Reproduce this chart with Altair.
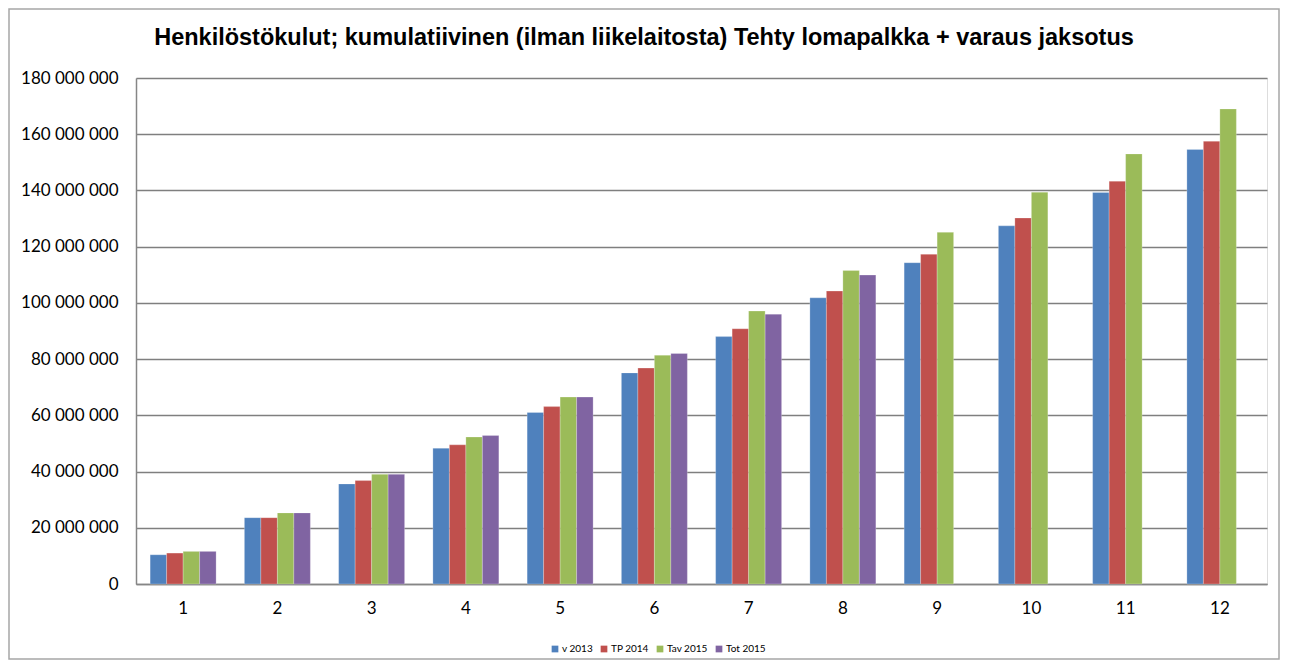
import altair as alt
import pandas as pd

months = list(range(1, 13))
series_names = ["v 2013", "TP 2014", "Tav 2015", "Tot 2015"]
v2013 = [10.4, 23.6, 35.6, 48.3, 61.0, 75.1, 88.0, 101.8, 114.3, 127.4, 139.3, 154.6]
tp2014 = [11.0, 23.6, 36.8, 49.5, 63.1, 76.8, 90.8, 104.2, 117.3, 130.2, 143.3, 157.5]
tav2015 = [11.6, 25.3, 39.0, 52.3, 66.5, 81.4, 97.1, 111.5, 125.1, 139.4, 153.0, 169.0]
tot2015 = [11.6, 25.3, 39.0, 52.8, 66.5, 82.0, 96.0, 109.9, None, None, None, None]
colors = ["#4F81BD", "#C0504D", "#9BBB59", "#8064A2"]
y_ticks = [0, 20e6, 40e6, 60e6, 80e6, 100e6, 120e6, 140e6, 160e6, 180e6]
title_text = "Henkilöstökulut; kumulatiivinen (ilman liikelaitosta) Tehty lomapalkka + varaus jaksotus"

rows = []
for name, vals in zip(series_names, [v2013, tp2014, tav2015, tot2015]):
    for m, v in zip(months, vals):
        if v is not None:
            rows.append({"month": m, "series": name, "value": v * 1e6})
df = pd.DataFrame(rows)

FONT = "Lato"

bars = alt.Chart(df).mark_bar(stroke="#ffffff", strokeWidth=0.4, strokeOpacity=0.6).encode(
    x=alt.X("month:O", title=None,
            scale=alt.Scale(paddingInner=0.3, paddingOuter=0.15),
            axis=alt.Axis(labelAngle=0, labelFontSize=17, labelFont=FONT, labelColor="#000000",
                          labelPadding=16, ticks=False, domainColor="#868686", domainWidth=1.5,
                          grid=False)),
    xOffset=alt.XOffset("series:N", scale=alt.Scale(domain=series_names)),
    y=alt.Y("value:Q", title=None,
            scale=alt.Scale(domain=[0, 180e6], nice=False),
            axis=alt.Axis(values=y_ticks, labelFontSize=17, labelFont=FONT, labelColor="#000000",
                          labelPadding=18, ticks=False, domainColor="#868686", domainWidth=1.5,
                          gridColor="#7f7f7f", gridWidth=1.5,
                          labelExpr="replace(format(datum.value, ','), regexp(',', 'g'), ' ')")),
    color=alt.Color("series:N", scale=alt.Scale(domain=series_names, range=colors),
                    legend=alt.Legend(title=None, orient="none", direction="horizontal",
                                      legendX=414, legendY=566, symbolType="square",
                                      symbolSize=45, symbolStrokeWidth=0, labelFontSize=10,
                                      labelFont=FONT, labelColor="#000000", columnPadding=6,
                                      labelOffset=2)),
)

one = pd.DataFrame({"t": [title_text]})

frame = alt.Chart(one).mark_rect(
    filled=False, stroke="#a6a6a6", strokeWidth=1.5
).encode(x=alt.value(-127), x2=alt.value(1143), y=alt.value(-69), y2=alt.value(581))

title = alt.Chart(one).mark_text(
    font="Liberation Sans", fontSize=23.5, fontWeight="bold", color="#000000",
    align="center", baseline="middle"
).encode(text="t:N", x=alt.value(508), y=alt.value(-40))

chart = alt.layer(frame, bars, title).properties(
    width=1131, height=506,
    autosize=alt.AutoSizeParams(type="none"),
    padding={"left": 128, "top": 70, "right": 14, "bottom": 76},
).configure_view(stroke=None).configure(background="#ffffff")

chart.save("out.html", embed_options={"renderer": "svg", "actions": False})
